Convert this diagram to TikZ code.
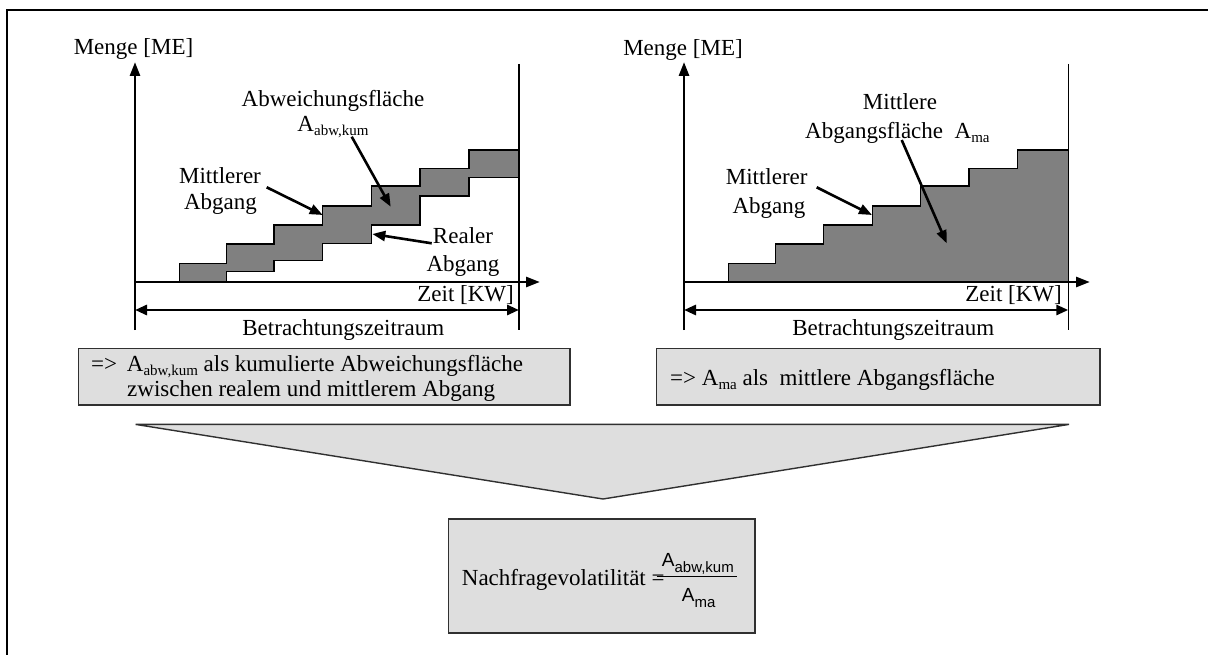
\documentclass[tikz,border=0pt]{standalone}
\usepackage{fontspec}
\setmainfont{Liberation Serif}
\newfontfamily\arialf{Liberation Sans}
\usetikzlibrary{arrows.meta}
\newcommand\subtxt[1]{\raisebox{-4pt}{\fontsize{15}{15}\selectfont #1}}
\newcommand\subsans[1]{\raisebox{-6pt}{\fontsize{15}{15}\selectfont #1}}
\definecolor{stepgray}{HTML}{808080}
\definecolor{boxgray}{HTML}{DEDEDE}
\definecolor{boxline}{HTML}{303030}
\begin{document}
\begin{tikzpicture}[x=1pt,y=-1pt,
  txt/.style={font=\fontsize{23}{26}\selectfont, inner sep=0pt, anchor=base},
  txtl/.style={txt, anchor=base west},
  txtr/.style={txt, anchor=base east},
  axisline/.style={line width=2.8pt, -{Triangle[length=14pt,width=10pt]}},
  spanarrow/.style={line width=2.8pt, {Triangle[length=12pt,width=10pt]}-{Triangle[length=12pt,width=10pt]}},
  thinline/.style={line width=1.4pt},
  pointer/.style={line width=2.6pt, -{Triangle[length=13pt,width=10pt]}},
  stairs/.style={fill=stepgray, draw=black, line width=1.4pt},
  infobox/.style={fill=boxgray, draw=boxline, line width=1.4pt}
]
\useasboundingbox (0,0) rectangle (1208,655);
% outer frame
\draw[line width=2pt] (7,660) -- (7,10) -- (1215,10);

% ---------------- left chart ----------------
\coordinate (LyB) at (135,330);
\coordinate (LyT) at (135,62);
\coordinate (LxL) at (135,282);
\coordinate (LxR) at (540,282);
\coordinate (LrT) at (519,64);
\coordinate (LrB) at (519,330);
\coordinate (LsL) at (135,310);
\coordinate (LsR) at (519,310);
\draw[stairs] (179.3,282) -- (179.3,263.3) -- (226.7,263.3) -- (226.7,244) -- (274,244) -- (274,225)
  -- (322.7,225) -- (322.7,206) -- (371.7,206) -- (371.7,186) -- (420,186) -- (420,168.3)
  -- (469,168.3) -- (469,150) -- (519,150) -- (519,177.3) -- (469,177.3) -- (469,196)
  -- (420,196) -- (420,225) -- (371.7,225) -- (371.7,243.3) -- (322.7,243.3) -- (322.7,260.7)
  -- (274,260.7) -- (274,271.7) -- (226.7,271.7) -- (226.7,282) -- cycle;
\draw[thinline] (LrT) -- (LrB);
\draw[axisline] (LyB) -- (LyT);
\draw[axisline] (LxL) -- (LxR);
\draw[spanarrow] (LsL) -- (LsR);

\node[txt] (Lmenge) at (133.5,55) {Menge [ME]};
\node[txt] (Labw1) at (333,106.7) {Abweichungsfläche};
\node[txt] (Labw2) at (333,131.7) {A\subtxt{abw,kum}};
\node[txt] (Lmit1) at (220,183.3) {Mittlerer};
\node[txt] (Lmit2) at (220.5,210) {Abgang};
\node[txt] (Lreal1) at (463,243.5) {Realer};
\node[txt] (Lreal2) at (463,271.5) {Abgang};
\node[txtr] (Lzeit) at (514,301.7) {Zeit [KW]};
\node[txt] (Lbetr) at (343.3,335) {Betrachtungszeitraum};

\coordinate (La1s) at (266.7,187.3); \coordinate (La1e) at (322.7,215);
\coordinate (La2s) at (351.7,136.7); \coordinate (La2e) at (390.7,206.7);
\coordinate (La3s) at (431.7,243.3); \coordinate (La3e) at (372.3,234);
\draw[pointer] (La1s) -- (La1e);
\draw[pointer] (La2s) -- (La2e);
\draw[pointer] (La3s) -- (La3e);

% ---------------- right chart ----------------
\coordinate (RyB) at (684,330);
\coordinate (RyT) at (684,62);
\coordinate (RxL) at (684,282);
\coordinate (RxR) at (1090,282);
\coordinate (RrT) at (1068.3,64);
\coordinate (RrB) at (1068.3,330);
\coordinate (RsL) at (684,310);
\coordinate (RsR) at (1068.3,310);
\draw[stairs] (728.3,282) -- (728.3,263.3) -- (775.7,263.3) -- (775.7,244) -- (823.3,244) -- (823.3,225)
  -- (872.3,225) -- (872.3,206) -- (920.7,206) -- (920.7,186) -- (969,186) -- (969,168.3)
  -- (1017.7,168.3) -- (1017.7,150) -- (1068.3,150) -- (1068.3,282) -- cycle;
\draw[thinline] (RrT) -- (RrB);
\draw[axisline] (RyB) -- (RyT);
\draw[axisline] (RxL) -- (RxR);
\draw[spanarrow] (RsL) -- (RsR);

\node[txt] (Rmenge) at (683,56) {Menge [ME]};
\node[txt] (Rmf1) at (900,110) {Mittlere};
\node[txtl] (Rmf2) at (805,138.3) {Abgangsfläche\ \ A\subtxt{ma}};
\node[txt] (Rmit1) at (766.7,185) {Mittlerer};
\node[txt] (Rmit2) at (769,213.3) {Abgang};
\node[txtr] (Rzeit) at (1062,301.7) {Zeit [KW]};
\node[txt] (Rbetr) at (893.3,335) {Betrachtungszeitraum};

\coordinate (Ra1s) at (816.7,187.3); \coordinate (Ra1e) at (872,215);
\coordinate (Ra2s) at (901.7,140); \coordinate (Ra2e) at (946.7,243.3);
\draw[pointer] (Ra1s) -- (Ra1e);
\draw[pointer] (Ra2s) -- (Ra2e);

% ---------------- info boxes ----------------
\draw[infobox] (78.6,348.3) rectangle (570,405);
\node[txtl] (Limpl) at (91,371.7) {=>};
\node[txtl] (Lline1) at (126.7,371.7) {A\subtxt{abw,kum} als kumulierte Abweichungsfläche};
\node[txtl] (Lline2) at (127,396) {zwischen realem und mittlerem Abgang};

\draw[infobox] (656.7,348.3) rectangle (1100,405);
\node[txtl] (Rline) at (670,385) {=>\ A\subtxt{ma} als\ \ mittlere Abgangsfläche};

% ---------------- funnel ----------------
\draw[infobox] (135.6,424.4) -- (1069,424.4) -- (603,499) -- cycle;

% ---------------- result box ----------------
\draw[infobox] (448.3,519) rectangle (755,633);
\node[txtl] (Nv) at (461.7,585) {Nachfragevolatilität =};
\node[inner sep=0pt, anchor=base west, font=\arialf\fontsize{19}{19}\selectfont] (num) at (661.7,566) {A\subsans{abw,kum}};
\node[inner sep=0pt, anchor=base west, font=\arialf\fontsize{19}{19}\selectfont] (den) at (681.7,601.7) {A\subsans{ma}};
\coordinate (barL) at (656.7,576.7);
\coordinate (barR) at (736.7,576.7);
\draw[line width=1.2pt] (barL) -- (barR);
\end{tikzpicture}
\end{document}
